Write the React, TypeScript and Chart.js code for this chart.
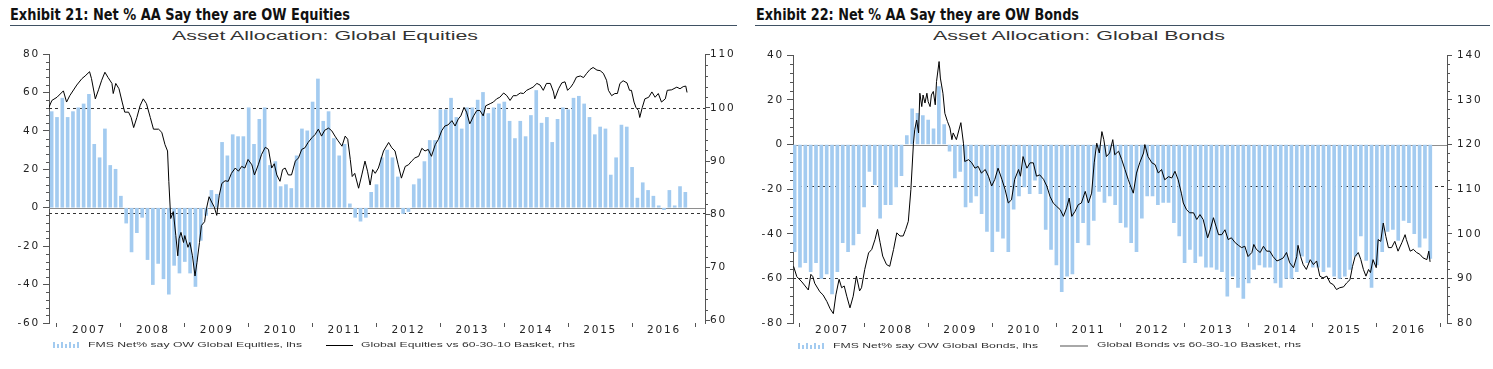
import React, { useEffect, useLayoutEffect, useRef } from 'react';
import { Chart, registerables } from 'chart.js';

Chart.register(...registerables);

// ---------- data ----------
const FIRST_MONTH = 2006 + 11 / 12; // first bar: Dec 2006, monthly afterwards
const yearLabels = ['2007', '2008', '2009', '2010', '2011', '2012', '2013', '2014', '2015', '2016'];

// Exhibit 21: FMS net % say OW global equities (lhs), monthly
const eqBars = [
  50, 47, 57, 47, 50, 52, 54, 59, 33, 26,
  41, 22, 20, 6, -8, -23, -13, -5, -27, -40,
  -29, -37, -45, -30, -34, -28, -34, -41, -17, -4,
  9, 7, 34, 27, 38, 37, 37, 52, 33, 46,
  52, 22, 24, 11, 12, 10, 27, 41, 40, 55,
  67, 45, 50, 36, 27, 33, 2, -5, -7, -5,
  8, 12, 26, 30, 26, 16, -3, -2, 12, 15,
  24, 35, 35, 51, 51, 57, 47, 41, 52, 52,
  56, 60, 49, 52, 54, 55, 45, 36, 45, 37,
  48, 61, 44, 47, 34, 46, 52, 51, 57, 58,
  54, 47, 38, 42, 41, 17, 26, 43, 42, 21,
  5, 13, 9, 6, 1, -1, 9, 1, 11, 8,
];

// Global equities vs 60-30-10 basket (rhs)
const eqLineT = [
  2006.87, 2006.92, 2007.0, 2007.1, 2007.15, 2007.2, 2007.31, 2007.39, 2007.44, 2007.51,
  2007.54, 2007.6, 2007.65, 2007.7, 2007.75, 2007.8, 2007.86, 2007.88, 2007.92, 2007.97,
  2008.02, 2008.06, 2008.12, 2008.16, 2008.2, 2008.25, 2008.3, 2008.35, 2008.4, 2008.46,
  2008.51, 2008.59, 2008.64, 2008.69, 2008.73, 2008.75, 2008.78, 2008.82, 2008.86, 2008.89,
  2008.91, 2008.94, 2008.98, 2009.0, 2009.05, 2009.08, 2009.12, 2009.16, 2009.19, 2009.23,
  2009.26, 2009.31, 2009.34, 2009.38, 2009.42, 2009.46, 2009.5, 2009.54, 2009.58, 2009.63,
  2009.68, 2009.73, 2009.79, 2009.84, 2009.89, 2009.94, 2009.99, 2010.05, 2010.09, 2010.15,
  2010.2, 2010.26, 2010.31, 2010.36, 2010.4, 2010.44, 2010.49, 2010.53, 2010.57, 2010.62,
  2010.67, 2010.73, 2010.78, 2010.83, 2010.88, 2010.93, 2010.99, 2011.04, 2011.09, 2011.14,
  2011.19, 2011.25, 2011.3, 2011.35, 2011.4, 2011.46, 2011.51, 2011.55, 2011.59, 2011.62,
  2011.66, 2011.72, 2011.77, 2011.82, 2011.86, 2011.9, 2011.94, 2011.98, 2012.03, 2012.11,
  2012.19, 2012.24, 2012.29, 2012.34, 2012.39, 2012.45, 2012.5, 2012.55, 2012.6, 2012.66,
  2012.71, 2012.76, 2012.81, 2012.86, 2012.92, 2012.97, 2013.02, 2013.07, 2013.12, 2013.18,
  2013.23, 2013.28, 2013.32, 2013.37, 2013.41, 2013.46, 2013.52, 2013.57, 2013.62, 2013.67,
  2013.71, 2013.78, 2013.83, 2013.88, 2013.93, 2013.99, 2014.04, 2014.09, 2014.14, 2014.19,
  2014.25, 2014.3, 2014.35, 2014.4, 2014.45, 2014.51, 2014.56, 2014.61, 2014.66, 2014.72,
  2014.77, 2014.79, 2014.85, 2014.9, 2014.95, 2014.99, 2015.04, 2015.08, 2015.13, 2015.19,
  2015.24, 2015.29, 2015.34, 2015.39, 2015.45, 2015.5, 2015.55, 2015.6, 2015.63, 2015.68,
  2015.73, 2015.77, 2015.81, 2015.86, 2015.92, 2015.96, 2015.99, 2016.03, 2016.06, 2016.1,
  2016.12, 2016.16, 2016.2, 2016.26, 2016.31, 2016.36, 2016.41, 2016.46, 2016.52, 2016.55,
  2016.62, 2016.7, 2016.75, 2016.8, 2016.84, 2016.86,
];
const eqLineV = [
  100.0, 101.4, 102.0, 103.2, 101.1, 102.3, 104.3, 105.5, 106.0, 106.8,
  105.5, 101.7, 103.4, 105.2, 106.7, 105.7, 104.6, 102.7, 104.6, 103.6,
  101.1, 99.2, 99.2, 98.2, 96.3, 98.2, 100.4, 101.7, 100.8, 98.2,
  96.0, 96.0, 95.4, 93.1, 91.9, 86.2, 79.2, 80.5, 76.0, 72.2,
  75.4, 76.6, 74.7, 76.0, 73.8, 74.7, 72.2, 68.4, 70.9, 74.7,
  77.9, 78.6, 81.1, 83.3, 82.3, 81.4, 79.8, 83.6, 85.8, 86.3,
  86.2, 87.7, 88.7, 88.1, 89.0, 88.7, 90.3, 89.3, 87.4, 89.3,
  91.2, 92.6, 92.2, 88.7, 89.5, 87.4, 86.2, 88.4, 88.7, 87.4,
  87.4, 90.0, 90.6, 92.2, 92.5, 93.5, 94.4, 95.0, 96.0, 94.7,
  95.8, 96.2, 95.7, 94.7, 93.8, 92.8, 94.7, 94.1, 90.3, 87.1,
  87.7, 84.9, 87.4, 90.0, 88.1, 85.5, 88.4, 87.7, 88.7, 91.9,
  93.5, 92.5, 91.9, 89.3, 86.8, 89.0, 89.3, 90.0, 90.6, 90.9,
  92.4, 91.9, 92.2, 90.9, 93.1, 94.1, 95.7, 96.6, 96.8, 97.6,
  96.6, 97.9, 98.5, 100.1, 99.2, 97.0, 98.5, 99.5, 99.5, 98.5,
  100.4, 100.8, 101.1, 101.7, 102.0, 102.8, 102.3, 101.4, 102.3, 102.3,
  102.8, 102.7, 103.3, 103.6, 103.9, 104.6, 104.3, 103.3, 104.6, 104.6,
  103.0, 101.7, 103.6, 104.7, 104.9, 103.3, 103.9, 104.6, 105.8, 106.0,
  105.7, 106.5, 107.2, 107.6, 107.1, 107.0, 106.5, 105.2, 103.3, 102.3,
  102.7, 102.7, 104.6, 105.1, 104.7, 103.3, 103.3, 101.1, 100.1, 99.5,
  98.2, 100.1, 101.7, 102.0, 103.0, 102.0, 102.7, 101.1, 101.7, 103.3,
  103.4, 103.9, 103.6, 104.0, 104.1, 102.9,
];

// Exhibit 22: FMS net % say OW global bonds (lhs), monthly
const bdBars = [
  -48, -55, -53, -57, -53, -60, -58, -67, -57, -44,
  -48, -45, -40, -28, -12, -18, -33, -27, -27, -19,
  -14, 4, 16, 14, 13, 11, 7, 26, 9, -3,
  -15, -12, -28, -26, -23, -31, -39, -48, -39, -42,
  -48, -29, -23, -19, -22, -16, -22, -38, -47, -54,
  -66, -59, -58, -44, -35, -45, -34, -21, -26, -23,
  -27, -35, -37, -44, -48, -33, -23, -23, -27, -26,
  -26, -35, -41, -53, -47, -53, -50, -55, -55, -56,
  -57, -68, -59, -64, -69, -62, -56, -54, -55, -55,
  -62, -64, -60, -60, -57, -50, -53, -55, -55, -57,
  -55, -59, -60, -59, -56, -50, -41, -52, -64, -54,
  -48, -39, -38, -43, -34, -35, -40, -46, -42, -51,
];

// Global bonds vs 60-30-10 basket (rhs)
const bdLineT = [
  2006.9, 2006.95, 2007.03, 2007.08, 2007.13, 2007.17, 2007.2, 2007.23, 2007.31, 2007.36,
  2007.42, 2007.47, 2007.52, 2007.56, 2007.61, 2007.65, 2007.69, 2007.73, 2007.78, 2007.83,
  2007.88, 2007.93, 2007.96, 2008.01, 2008.07, 2008.12, 2008.17, 2008.21, 2008.25, 2008.29,
  2008.35, 2008.4, 2008.46, 2008.51, 2008.56, 2008.61, 2008.65, 2008.69, 2008.73, 2008.77,
  2008.79, 2008.82, 2008.85, 2008.87, 2008.9, 2008.92, 2008.95, 2008.98, 2009.0, 2009.03,
  2009.05, 2009.08, 2009.11, 2009.13, 2009.17, 2009.19, 2009.23, 2009.26, 2009.3, 2009.34,
  2009.37, 2009.39, 2009.44, 2009.51, 2009.55, 2009.57, 2009.63, 2009.68, 2009.73, 2009.78,
  2009.83, 2009.89, 2009.94, 2009.99, 2010.04, 2010.09, 2010.15, 2010.2, 2010.25, 2010.3,
  2010.35, 2010.41, 2010.44, 2010.48, 2010.54, 2010.59, 2010.64, 2010.69, 2010.74, 2010.8,
  2010.85, 2010.9, 2010.95, 2011.0, 2011.06, 2011.11, 2011.16, 2011.2, 2011.24, 2011.29,
  2011.34, 2011.39, 2011.45, 2011.5, 2011.55, 2011.59, 2011.63, 2011.67, 2011.71, 2011.74,
  2011.78, 2011.83, 2011.88, 2011.91, 2011.97, 2012.02, 2012.07, 2012.12, 2012.15, 2012.2,
  2012.25, 2012.3, 2012.36, 2012.38, 2012.43, 2012.49, 2012.54, 2012.59, 2012.64, 2012.69,
  2012.75, 2012.8, 2012.85, 2012.9, 2012.95, 2012.98, 2013.03, 2013.08, 2013.14, 2013.19,
  2013.24, 2013.29, 2013.36, 2013.4, 2013.45, 2013.49, 2013.53, 2013.58, 2013.63, 2013.68,
  2013.73, 2013.79, 2013.84, 2013.89, 2013.94, 2013.99, 2014.05, 2014.08, 2014.12, 2014.18,
  2014.23, 2014.28, 2014.33, 2014.38, 2014.44, 2014.49, 2014.54, 2014.59, 2014.64, 2014.7,
  2014.75, 2014.77, 2014.81, 2014.85, 2014.9, 2014.96, 2015.01, 2015.06, 2015.11, 2015.16,
  2015.22, 2015.27, 2015.32, 2015.37, 2015.42, 2015.48, 2015.53, 2015.58, 2015.62, 2015.66,
  2015.71, 2015.75, 2015.79, 2015.83, 2015.87, 2015.9, 2015.94, 2015.99, 2016.02, 2016.06,
  2016.1, 2016.14, 2016.18, 2016.23, 2016.28, 2016.33, 2016.39, 2016.44, 2016.46, 2016.52,
  2016.57, 2016.62, 2016.67, 2016.72, 2016.78, 2016.81, 2016.83,
];
const bdLineV = [
  92.7, 90.4, 89.2, 88.3, 87.4, 90.9, 90.4, 88.9, 87.0, 86.3,
  84.8, 83.2, 82.1, 86.3, 89.8, 87.9, 88.3, 86.0, 83.4, 86.0,
  90.5, 87.2, 87.9, 92.0, 95.7, 96.5, 98.7, 101.0, 98.0, 95.0,
  93.1, 92.7, 96.5, 100.2, 99.5, 99.5, 101.0, 102.8, 109.9, 120.3,
  123.3, 125.5, 122.6, 131.5, 128.5, 131.1, 129.3, 131.5, 129.6, 128.5,
  131.1, 131.9, 128.9, 134.1, 138.6, 134.9, 131.5, 127.0, 125.2, 123.7,
  121.1, 122.6, 121.1, 124.9, 120.3, 116.2, 116.6, 115.9, 114.7, 115.1,
  113.6, 114.4, 112.9, 110.7, 112.2, 114.7, 112.2, 109.9, 106.9, 107.6,
  112.2, 114.4, 112.9, 117.3, 114.7, 115.9, 115.9, 112.9, 113.2, 112.2,
  110.7, 108.4, 106.9, 106.2, 105.4, 103.9, 105.8, 108.0, 103.9, 105.0,
  106.5, 106.9, 109.5, 106.9, 109.1, 115.9, 120.3, 118.1, 122.9, 121.1,
  117.3, 118.1, 121.1, 117.7, 118.5, 116.6, 114.4, 112.2, 111.0, 109.1,
  113.6, 115.9, 118.1, 120.0, 117.3, 115.9, 115.5, 113.6, 114.4, 112.1,
  112.8, 112.5, 114.0, 112.1, 109.1, 106.9, 105.4, 104.7, 104.7, 103.2,
  104.3, 103.2, 99.1, 100.9, 103.6, 101.7, 99.8, 99.8, 100.9, 98.7,
  99.1, 98.0, 97.4, 96.9, 97.2, 94.9, 95.8, 97.6, 96.5, 95.8,
  97.2, 96.1, 96.1, 94.9, 93.9, 94.2, 94.6, 95.8, 93.5, 92.4,
  94.9, 97.4, 94.9, 93.1, 92.0, 94.2, 93.1, 93.9, 90.5, 90.1,
  90.5, 89.0, 88.6, 87.5, 87.9, 88.1, 89.0, 89.7, 92.7, 94.9,
  95.8, 94.2, 92.0, 90.5, 92.0, 91.3, 94.2, 92.4, 98.7, 98.3,
  102.4, 99.4, 96.9, 96.9, 98.3, 96.1, 98.0, 99.8, 98.7, 96.1,
  96.5, 95.8, 95.4, 94.6, 94.2, 96.1, 93.7,
];

const eqDashedLevels = [100, 80.3];
const bdDashedLevels = [110.6, 90];

// ---------- styling ----------
const BAR_COLOR = '#a3cbf0';
const AXIS_COLOR = '#555555';
const TEXT_COLOR = '#222222';
const TICK_FONT = { family: 'DejaVu Sans', size: 10.5 };

const spacingPlugin = {
  id: 'spacing',
  beforeDraw(chart: any) {
    chart.ctx.letterSpacing = '1.8px';
  },
};

const refLinesPlugin = {
  id: 'refLines',
  beforeDatasetsDraw(chart: any, _args: any, opts: any) {
    const { ctx, chartArea } = chart;
    const { left, right } = chartArea;
    ctx.save();
    ctx.lineWidth = 1;
    ctx.strokeStyle = '#8e8e8e';
    const yz = Math.round(chart.scales.y.getPixelForValue(0)) + 0.5;
    ctx.beginPath();
    ctx.moveTo(left, yz);
    ctx.lineTo(right, yz);
    ctx.stroke();
    ctx.setLineDash([3, 3]);
    ctx.strokeStyle = '#333333';
    for (const v of opts.dashed) {
      const py = Math.round(chart.scales.y1.getPixelForValue(v)) + 0.5;
      ctx.beginPath();
      ctx.moveTo(left, py);
      ctx.lineTo(right, py);
      ctx.stroke();
    }
    ctx.restore();
  },
};

const minorTicksPlugin = {
  id: 'minorTicks',
  afterDraw(chart: any, _args: any, opts: any) {
    const { ctx, chartArea } = chart;
    ctx.save();
    ctx.strokeStyle = AXIS_COLOR;
    ctx.lineWidth = 1;
    const y = chart.scales.y;
    for (let v = y.min; v <= y.max; v += opts.leftStep) {
      if (v % opts.leftMajor !== 0) {
        const py = Math.round(y.getPixelForValue(v)) + 0.5;
        ctx.beginPath();
        ctx.moveTo(chartArea.left - 3, py);
        ctx.lineTo(chartArea.left, py);
        ctx.stroke();
      }
    }
    const y1 = chart.scales.y1;
    const start = Math.ceil(y1.min / opts.rightStep) * opts.rightStep;
    for (let v = start; v <= y1.max; v += opts.rightStep) {
      if (v % opts.rightMajor !== 0) {
        const py = Math.round(y1.getPixelForValue(v)) + 0.5;
        ctx.beginPath();
        ctx.moveTo(chartArea.right, py);
        ctx.lineTo(chartArea.right + 3, py);
        ctx.stroke();
      }
    }
    ctx.restore();
  },
};

type PanelSpec = {
  canvasLeft: number;
  canvasWidth: number;
  rightAxisWidth: number;
  rightLabelPad: number;
  xMin: number;
  xMax: number;
  yMin: number;
  yMax: number;
  y1Min: number;
  y1Max: number;
  bars: number[];
  lineT: number[];
  lineV: number[];
  dashed: number[];
};

function buildConfig(p: PanelSpec): any {
  const xTicks: number[] = [];
  for (let yr = 2007; yr <= 2017; yr++) {
    xTicks.push(yr);
    if (yr < 2017) xTicks.push(yr + 0.5);
  }
  return {
    type: 'bar',
    data: {
      datasets: [
        {
          type: 'line',
          data: p.lineT.map((t, i) => ({ x: t, y: p.lineV[i] })),
          borderColor: '#000000',
          borderWidth: 1,
          pointRadius: 0,
          tension: 0,
          yAxisID: 'y1',
          xAxisID: 'x',
          order: 0,
        },
        {
          type: 'bar',
          data: p.bars.map((v, i) => ({ x: FIRST_MONTH + i / 12, y: v })),
          backgroundColor: BAR_COLOR,
          borderWidth: 0,
          barThickness: 3,
          yAxisID: 'y',
          xAxisID: 'x',
          order: 1,
        },
      ],
    },
    options: {
      responsive: false,
      animation: false,
      events: [],
      layout: { padding: { top: 10, left: 0, right: 0, bottom: 0 } },
      plugins: {
        legend: { display: false },
        tooltip: { enabled: false },
        refLines: { dashed: p.dashed },
        minorTicks: { leftStep: 4, leftMajor: 20, rightStep: 2, rightMajor: 10 },
      },
      scales: {
        x: {
          type: 'linear',
          min: p.xMin,
          max: p.xMax,
          offset: false,
          afterBuildTicks: (axis: any) => {
            axis.ticks = xTicks.map((v) => ({ value: v }));
          },
          afterFit: (axis: any) => {
            axis.height = 46;
          },
          ticks: {
            autoSkip: false,
            maxRotation: 0,
            padding: -3,
            color: TEXT_COLOR,
            font: TICK_FONT,
            callback: (v: number) =>
              Number.isInteger(v) ? '' : yearLabels[Math.floor(v) - 2007] ?? '',
          },
          grid: {
            offset: false,
            drawOnChartArea: false,
            drawTicks: true,
            tickLength: 4,
            tickColor: (c: any) =>
              c.tick && Number.isInteger(c.tick.value) ? AXIS_COLOR : 'rgba(0,0,0,0)',
          },
          border: { display: false },
        },
        y: {
          type: 'linear',
          position: 'left',
          min: p.yMin,
          max: p.yMax,
          afterFit: (axis: any) => {
            axis.width = 49;
          },
          ticks: { stepSize: 20, padding: 3, color: TEXT_COLOR, font: TICK_FONT },
          grid: { drawOnChartArea: false, tickLength: 6, tickColor: AXIS_COLOR },
          border: { display: true, color: AXIS_COLOR, width: 1 },
        },
        y1: {
          type: 'linear',
          position: 'right',
          min: p.y1Min,
          max: p.y1Max,
          afterFit: (axis: any) => {
            axis.width = p.rightAxisWidth;
          },
          ticks: {
            stepSize: 10,
            includeBounds: false,
            padding: p.rightLabelPad,
            color: TEXT_COLOR,
            font: TICK_FONT,
          },
          grid: { drawOnChartArea: false, tickLength: 5, tickColor: AXIS_COLOR },
          border: { display: true, color: AXIS_COLOR, width: 1 },
        },
      },
    },
    plugins: [spacingPlugin, refLinesPlugin, minorTicksPlugin],
  };
}

function ChartCanvas({ spec }: { spec: PanelSpec }) {
  const ref = useRef<HTMLCanvasElement>(null);
  useEffect(() => {
    if (!ref.current) return;
    const chart = new Chart(ref.current, buildConfig(spec));
    return () => chart.destroy();
  }, [spec]);
  return (
    <canvas
      ref={ref}
      width={spec.canvasWidth}
      height={325}
      style={{
        position: 'absolute',
        left: spec.canvasLeft,
        top: 44,
        width: spec.canvasWidth,
        height: 325,
      }}
    />
  );
}

function FitText({
  x,
  y,
  width,
  text,
  style,
}: {
  x: number;
  y: number;
  width: number;
  text: string;
  style: React.CSSProperties;
}) {
  const ref = useRef<HTMLSpanElement>(null);
  useLayoutEffect(() => {
    const el = ref.current;
    if (!el) return;
    el.style.transform = 'none';
    const w = el.getBoundingClientRect().width;
    if (w > 0) el.style.transform = `scaleX(${width / w})`;
  }, [text, width]);
  return (
    <span
      ref={ref}
      style={{
        position: 'absolute',
        left: x,
        top: y,
        whiteSpace: 'nowrap',
        transformOrigin: '0 0',
        ...style,
      }}
    >
      {text}
    </span>
  );
}

function BarIcon({ x, y }: { x: number; y: number }) {
  const heights = [6, 4, 6, 4, 6, 4, 6];
  return (
    <div style={{ position: 'absolute', left: x, top: y, width: 28, height: 6 }}>
      {heights.map((h, i) => (
        <div
          key={i}
          style={{
            position: 'absolute',
            left: i * 4,
            bottom: 0,
            width: 2,
            height: h,
            background: BAR_COLOR,
          }}
        />
      ))}
    </div>
  );
}

const headingStyle: React.CSSProperties = {
  fontFamily: '"Liberation Sans Narrow", "DejaVu Sans Condensed", "Liberation Sans", Arial, sans-serif',
  fontStretch: 'condensed',
  fontWeight: 'bold',
  fontSize: 16,
  lineHeight: '20px',
  color: '#111111',
};
const subtitleStyle: React.CSSProperties = {
  fontFamily: '"Liberation Sans", Arial, sans-serif',
  fontSize: 12.5,
  lineHeight: '15px',
  color: '#333333',
};
const legendStyle: React.CSSProperties = {
  fontFamily: '"Liberation Sans", Arial, sans-serif',
  fontSize: 8,
  lineHeight: '10px',
  color: '#333333',
};

const eqSpec: PanelSpec = {
  canvasLeft: 0,
  canvasWidth: 740,
  rightAxisWidth: 35,
  rightLabelPad: 0,
  xMin: 2006.875,
  xMax: 2017.141,
  yMin: -60,
  yMax: 80,
  y1Min: 59.57,
  y1Max: 110.13,
  bars: eqBars,
  lineT: eqLineT,
  lineV: eqLineV,
  dashed: eqDashedLevels,
};

const bdSpec: PanelSpec = {
  canvasLeft: 744,
  canvasWidth: 749,
  rightAxisWidth: 46,
  rightLabelPad: 5,
  xMin: 2006.891,
  xMax: 2017.094,
  yMin: -80,
  yMax: 40,
  y1Min: 80,
  y1Max: 140,
  bars: bdBars,
  lineT: bdLineT,
  lineV: bdLineV,
  dashed: bdDashedLevels,
};

export default function App() {
  return (
    <div
      style={{
        position: 'fixed',
        left: 0,
        top: 0,
        width: 1493,
        height: 369,
        background: '#ffffff',
        overflow: 'hidden',
      }}
    >
      <ChartCanvas spec={eqSpec} />
      <ChartCanvas spec={bdSpec} />

      {/* left panel texts */}
      <FitText x={10} y={5} width={340} text="Exhibit 21: Net % AA Say they are OW Equities" style={headingStyle} />
      <div style={{ position: 'absolute', left: 10, top: 25, width: 727, height: 1, background: '#3f5163' }} />
      <FitText x={172} y={29} width={306} text="Asset Allocation: Global Equities" style={subtitleStyle} />
      <BarIcon x={53} y={342} />
      <FitText x={88} y={340} width={214} text="FMS Net% say OW Global Equities, lhs" style={legendStyle} />
      <div style={{ position: 'absolute', left: 326, top: 345, width: 27, height: 1, background: '#000000' }} />
      <FitText x={361} y={340} width={214} text="Global Equities vs 60-30-10 Basket, rhs" style={legendStyle} />

      {/* right panel texts */}
      <FitText x={756} y={5} width={323} text="Exhibit 22: Net % AA Say they are OW Bonds" style={headingStyle} />
      <div style={{ position: 'absolute', left: 755, top: 25, width: 735, height: 1, background: '#3f5163' }} />
      <FitText x={933} y={29} width={292} text="Asset Allocation: Global Bonds" style={subtitleStyle} />
      <BarIcon x={798} y={343} />
      <FitText x={833} y={341} width={205} text="FMS Net% say OW Global Bonds, lhs" style={legendStyle} />
      <div style={{ position: 'absolute', left: 1060, top: 345, width: 28, height: 2, background: '#a8a8a8' }} />
      <FitText x={1097} y={340} width={204} text="Global Bonds vs 60-30-10 Basket, rhs" style={legendStyle} />
    </div>
  );
}
